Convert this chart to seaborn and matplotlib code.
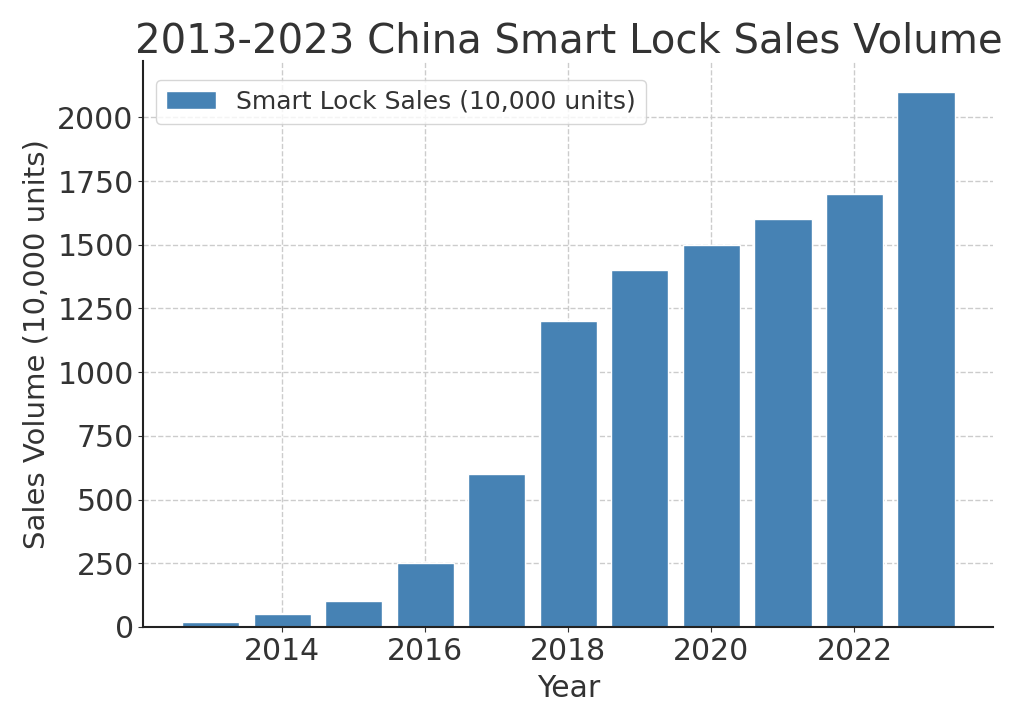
import matplotlib
matplotlib.use("Agg")
import matplotlib.pyplot as plt
import seaborn as sns

# ------------------ Data ------------------
years = [2013, 2014, 2015, 2016, 2017, 2018, 2019, 2020, 2021, 2022, 2023]
sales = [20, 50, 100, 250, 600, 1200, 1400, 1500, 1600, 1700, 2100]

# ------------------ Plot ------------------
sns.set_style("ticks")
plt.rcParams['font.family'] = ['DejaVu Sans']

fig, ax = plt.subplots(figsize=(10.24, 7.23), dpi=100)
sns.barplot(x=years, y=sales, native_scale=True, color="#4682B4", saturation=1,
            label="Smart Lock Sales (10,000 units)", ax=ax, zorder=2)

ax.set_title("2013-2023 China Smart Lock Sales Volume", fontsize=29, color="#333333")
ax.set_xlabel("Year", fontsize=21.5, color="#333333", labelpad=6)
ax.set_ylabel("Sales Volume (10,000 units)", fontsize=21, color="#333333", labelpad=5)
ax.tick_params(axis='both', labelsize=21.5, colors="#333333")
ax.set_xticks([2014, 2016, 2018, 2020, 2022])
ax.margins(x=0.05)
ax.set_ylim(0, 2220)

ax.grid(True, linestyle='--', color='#cccccc', linewidth=1, zorder=0)
ax.set_axisbelow(True)
sns.despine(ax=ax)
for s in ['left', 'bottom']:
    ax.spines[s].set_linewidth(1.5)
    ax.spines[s].set_color('#222222')

ax.legend(loc='upper left', fontsize=18, labelcolor="#333333",
          bbox_to_anchor=(0, 0.99))

plt.subplots_adjust(left=0.14, right=0.97, top=0.915, bottom=0.133)
plt.savefig("out.png", dpi=100)
